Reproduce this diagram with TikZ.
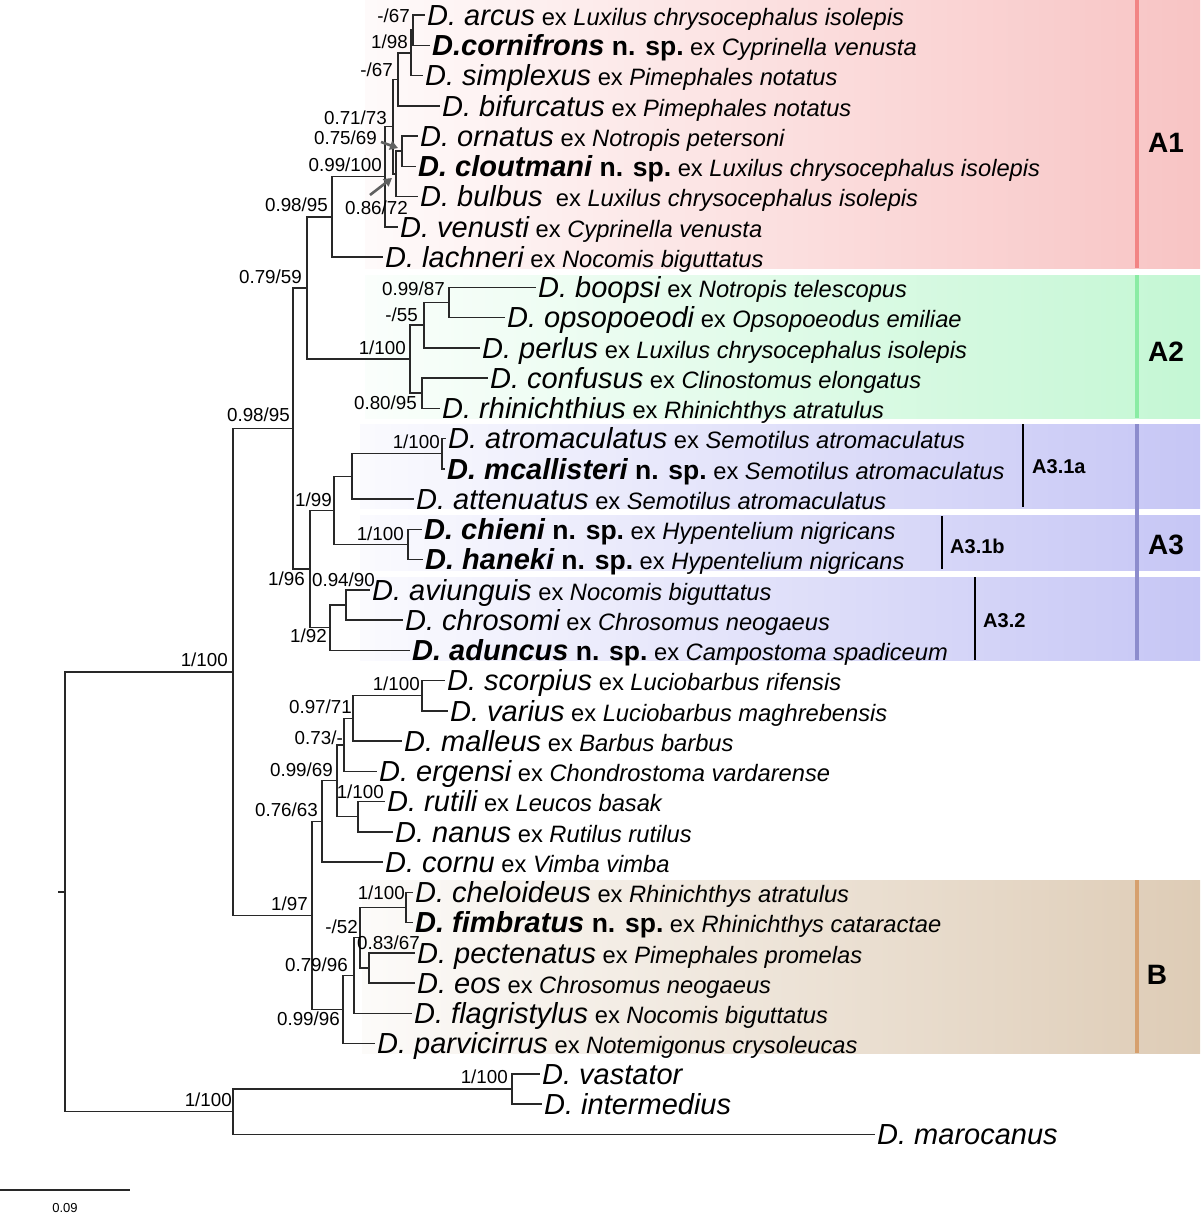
\documentclass[tikz,border=0pt]{standalone}
\usepackage{fontspec}
\setmainfont{Liberation Sans}
\usetikzlibrary{arrows.meta}

\definecolor{aone}{RGB}{248,196,196}
\definecolor{atwo}{RGB}{196,247,212}
\definecolor{athree}{RGB}{198,198,245}
\definecolor{bcol}{RGB}{222,204,182}
\definecolor{aoneline}{RGB}{242,132,132}
\definecolor{atwoline}{RGB}{138,236,164}
\definecolor{athreeline}{RGB}{140,140,205}
\definecolor{bline}{RGB}{214,160,110}
\definecolor{branch}{RGB}{40,40,40}

\newcommand\taxN[1]{{\fontsize{29}{30}\selectfont\itshape #1}}
\newcommand\taxB[1]{{\fontsize{29}{30}\selectfont\bfseries\itshape #1}}
\newcommand\newsp{{\fontsize{26.5}{30}\selectfont\bfseries\ n. sp.}}
\newcommand\exhost[1]{{\fontsize{23.7}{30}\selectfont\ ex \textit{#1}}}

\tikzset{
  br/.style={draw=branch, line width=1.5pt},
  suplab/.style={anchor=east, inner sep=0pt, font=\fontsize{18.8}{18.8}\selectfont},
  taxlab/.style={anchor=base west, inner sep=0pt, xshift=2pt, yshift=-10.4pt},
  cladelab/.style={inner sep=0pt, font=\fontsize{28}{28}\selectfont\bfseries},
  sublab/.style={anchor=west, inner sep=0pt, font=\fontsize{20}{20}\selectfont\bfseries},
  arr/.style={draw=gray!75!black, line width=2.6pt, -{Triangle[length=8pt,width=9pt]}},
  cladeline/.style={line width=3.5pt},
  subline/.style={draw=black, line width=2pt},
}

\begin{document}
\begin{tikzpicture}[x=1pt,y=-1pt]
\useasboundingbox (0,0) rectangle (1200,1213);

% ---------- background bands ----------
\shade[left color=aone!8, right color=aone] (365,0) rectangle (1200,268);
\shade[left color=atwo!8, right color=atwo] (365,275) rectangle (1200,418);
\shade[left color=athree!8, right color=athree] (360,424) rectangle (1200,508);
\shade[left color=athree!8, right color=athree] (360,515) rectangle (1200,570);
\shade[left color=athree!8, right color=athree] (360,577) rectangle (1200,660);
\shade[left color=bcol!8, right color=bcol] (362,880) rectangle (1200,1053);

\coordinate (cA1t) at (1137,0);   \coordinate (cA1b) at (1137,268);
\coordinate (cA2t) at (1137,275); \coordinate (cA2b) at (1137,418);
\coordinate (cA3t) at (1137,424); \coordinate (cA3b) at (1137,660);
\coordinate (cBt) at (1137,880);  \coordinate (cBb) at (1137,1053);
\draw[cladeline, draw=aoneline] (cA1t) -- (cA1b);
\draw[cladeline, draw=atwoline] (cA2t) -- (cA2b);
\draw[cladeline, draw=athreeline] (cA3t) -- (cA3b);
\draw[cladeline, draw=bline] (cBt) -- (cBb);

\node[cladelab] (labA1) at (1166,143) {A1};
\node[cladelab] (labA2) at (1166,352) {A2};
\node[cladelab] (labA3) at (1166,545) {A3};
\node[cladelab] (labB) at (1157,975) {B};

\coordinate (s1at) at (1023,424); \coordinate (s1ab) at (1023,507);
\coordinate (s1bt) at (942,516);  \coordinate (s1bb) at (942,569);
\coordinate (s2t) at (975,577);   \coordinate (s2b) at (975,660);
\draw[subline] (s1at) -- (s1ab);
\draw[subline] (s1bt) -- (s1bb);
\draw[subline] (s2t) -- (s2b);
\node[sublab] (labA31a) at (1032,467) {A3.1a};
\node[sublab] (labA31b) at (950,546) {A3.1b};
\node[sublab] (labA32) at (983,621) {A3.2};

% ---------- tips ----------
\coordinate (t1) at (425,15);
\coordinate (t2) at (430,45.25);
\coordinate (t3) at (423,75.5);
\coordinate (t4) at (440,105.75);
\coordinate (t5) at (418,136);
\coordinate (t6) at (416,166.25);
\coordinate (t7) at (418,196.5);
\coordinate (t8) at (398,226.75);
\coordinate (t9) at (383,257);
\coordinate (t10) at (536,287.25);
\coordinate (t11) at (505,317.5);
\coordinate (t12) at (480,347.75);
\coordinate (t13) at (488,378);
\coordinate (t14) at (440,408.25);
\coordinate (t15) at (446,438.5);
\coordinate (t16) at (445,468.75);
\coordinate (t17) at (414,499);
\coordinate (t18) at (422,529.25);
\coordinate (t19) at (423,559.5);
\coordinate (t20) at (370,589.75);
\coordinate (t21) at (403,620);
\coordinate (t22) at (410,650.25);
\coordinate (t23) at (445,680.5);
\coordinate (t24) at (448,710.75);
\coordinate (t25) at (402,741);
\coordinate (t26) at (377,771.25);
\coordinate (t27) at (385,801.5);
\coordinate (t28) at (393,831.75);
\coordinate (t29) at (383,862);
\coordinate (t30) at (413,892.25);
\coordinate (t31) at (413,922.5);
\coordinate (t32) at (415,952.75);
\coordinate (t33) at (415,983);
\coordinate (t34) at (412,1013.25);
\coordinate (t35) at (375,1043.5);
\coordinate (t36) at (540,1073.75);
\coordinate (t37) at (542,1104);
\coordinate (t38) at (875,1134.25);

% ---------- internal nodes ----------
\coordinate (nac) at (413,30.1);
\coordinate (nacs) at (411,52.8);
\coordinate (nacsb) at (398,79.3);
\coordinate (noc) at (402,151.1);
\coordinate (nocb) at (396,173.8);
\coordinate (nsev) at (393,126.5);
\coordinate (nnine) at (385,176.6);
\coordinate (nAone) at (332,216.8);
\coordinate (nbo) at (449,302.4);
\coordinate (nbop) at (424,325.1);
\coordinate (ncr) at (422,393.1);
\coordinate (nAtwo) at (410,359.1);
\coordinate (nAonetwo) at (307,288);
\coordinate (nam) at (442,453.6);
\coordinate (nama) at (352,476.3);
\coordinate (nch) at (408,544.4);
\coordinate (nAthreeone) at (334,510.3);
\coordinate (navc) at (346,604.9);
\coordinate (nAthreetwo) at (330,627.6);
\coordinate (nAthree) at (310,569);
\coordinate (nA) at (293,428.5);
\coordinate (nsv) at (422,695.6);
\coordinate (nsvm) at (353,718.3);
\coordinate (nsvme) at (344,744.8);
\coordinate (nrn) at (358,816.6);
\coordinate (neur) at (337,780.7);
\coordinate (neurc) at (322,821.4);
\coordinate (ncf) at (406,907.4);
\coordinate (npe) at (369,967.9);
\coordinate (nbf) at (360,937.6);
\coordinate (nbfl) at (354,975.4);
\coordinate (nB) at (343,1009.5);
\coordinate (nEB) at (312,915.4);
\coordinate (nin) at (233,672);
\coordinate (nvi) at (512,1088.9);
\coordinate (nout) at (233,1111.6);
\coordinate (root) at (65,891.8);
\coordinate (rtick) at (58,891.8);

% ---------- branches ----------
\draw[br] (nac) |- (t1); \draw[br] (nac) |- (t2);
\draw[br] (nacs) |- (nac); \draw[br] (nacs) |- (t3);
\draw[br] (nacsb) |- (nacs); \draw[br] (nacsb) |- (t4);
\draw[br] (noc) |- (t5); \draw[br] (noc) |- (t6);
\draw[br] (nocb) |- (noc); \draw[br] (nocb) |- (t7);
\draw[br] (nsev) |- (nacsb); \draw[br] (nsev) |- (nocb);
\draw[br] (nnine) |- (nsev); \draw[br] (nnine) |- (t8);
\draw[br] (nAone) |- (nnine); \draw[br] (nAone) |- (t9);
\draw[br] (nbo) |- (t10); \draw[br] (nbo) |- (t11);
\draw[br] (nbop) |- (nbo); \draw[br] (nbop) |- (t12);
\draw[br] (ncr) |- (t13); \draw[br] (ncr) |- (t14);
\draw[br] (nAtwo) |- (nbop); \draw[br] (nAtwo) |- (ncr);
\draw[br] (nAonetwo) |- (nAone); \draw[br] (nAonetwo) |- (nAtwo);
\draw[br] (nam) |- (t15); \draw[br] (nam) |- (t16);
\draw[br] (nama) |- (nam); \draw[br] (nama) |- (t17);
\draw[br] (nch) |- (t18); \draw[br] (nch) |- (t19);
\draw[br] (nAthreeone) |- (nama); \draw[br] (nAthreeone) |- (nch);
\draw[br] (navc) |- (t20); \draw[br] (navc) |- (t21);
\draw[br] (nAthreetwo) |- (navc); \draw[br] (nAthreetwo) |- (t22);
\draw[br] (nAthree) |- (nAthreeone); \draw[br] (nAthree) |- (nAthreetwo);
\draw[br] (nA) |- (nAonetwo); \draw[br] (nA) |- (nAthree);
\draw[br] (nsv) |- (t23); \draw[br] (nsv) |- (t24);
\draw[br] (nsvm) |- (nsv); \draw[br] (nsvm) |- (t25);
\draw[br] (nsvme) |- (nsvm); \draw[br] (nsvme) |- (t26);
\draw[br] (nrn) |- (t27); \draw[br] (nrn) |- (t28);
\draw[br] (neur) |- (nsvme); \draw[br] (neur) |- (nrn);
\draw[br] (neurc) |- (neur); \draw[br] (neurc) |- (t29);
\draw[br] (ncf) |- (t30); \draw[br] (ncf) |- (t31);
\draw[br] (npe) |- (t32); \draw[br] (npe) |- (t33);
\draw[br] (nbf) |- (ncf); \draw[br] (nbf) |- (npe);
\draw[br] (nbfl) |- (nbf); \draw[br] (nbfl) |- (t34);
\draw[br] (nB) |- (nbfl); \draw[br] (nB) |- (t35);
\draw[br] (nEB) |- (neurc); \draw[br] (nEB) |- (nB);
\draw[br] (nin) |- (nA); \draw[br] (nin) |- (nEB);
\draw[br] (nvi) |- (t36); \draw[br] (nvi) |- (t37);
\draw[br] (nout) |- (nvi); \draw[br] (nout) |- (t38);
\draw[br] (root) |- (nin); \draw[br] (root) |- (nout);
\draw[br] (rtick) -- (root);

% ---------- support values ----------
\node[suplab] (s1) at (228,660) {1/100};
\node[suplab] (s2) at (232,1100) {1/100};
\node[suplab] (s3) at (290,415) {0.98/95};
\node[suplab] (s4) at (302,277) {0.79/59};
\node[suplab] (s5) at (328,205) {0.98/95};
\node[suplab] (s6) at (382,165) {0.99/100};
\node[suplab] (s7) at (387,118) {0.71/73};
\node[suplab] (s8) at (377,138) {0.75/69};
\node[suplab] (s9) at (408,208) {0.86/72};
\node[suplab] (s10) at (410,16) {-/67};
\node[suplab] (s11) at (408,42) {1/98};
\node[suplab] (s12) at (393,70) {-/67};
\node[suplab] (s13) at (445,289) {0.99/87};
\node[suplab] (s14) at (418,315) {-/55};
\node[suplab] (s15) at (406,348) {1/100};
\node[suplab] (s16) at (417,403) {0.80/95};
\node[suplab] (s17) at (440,442) {1/100};
\node[suplab] (s18) at (332,500) {1/99};
\node[suplab] (s19) at (404,534) {1/100};
\node[suplab] (s20) at (305,579) {1/96};
\node[suplab] (s21) at (375,580) {0.94/90};
\node[suplab] (s22) at (327,636) {1/92};
\node[suplab] (s23) at (420,684) {1/100};
\node[suplab] (s24) at (352,707) {0.97/71};
\node[suplab] (s25) at (343,738) {0.73/-};
\node[suplab] (s26) at (333,770) {0.99/69};
\node[suplab] (s27) at (384,792) {1/100};
\node[suplab] (s28) at (318,810) {0.76/63};
\node[suplab] (s29) at (308,904) {1/97};
\node[suplab] (s30) at (405,893) {1/100};
\node[suplab] (s31) at (358,927) {-/52};
\node[suplab] (s32) at (420,943) {0.83/67};
\node[suplab] (s33) at (348,965) {0.79/96};
\node[suplab] (s34) at (340,1019) {0.99/96};
\node[suplab] (s35) at (508,1077) {1/100};

\coordinate (arrAs) at (381,142);
\coordinate (arrAe) at (398,148);
\coordinate (arrBs) at (370,195);
\coordinate (arrBe) at (392,178);
\draw[arr] (arrAs) -- (arrAe);
\draw[arr] (arrBs) -- (arrBe);

% ---------- taxon labels ----------
\node[taxlab] (l1) at (t1) {\taxN{D. arcus}\exhost{Luxilus chrysocephalus isolepis}};
\node[taxlab] (l2) at (t2) {\taxB{D.cornifrons}\newsp\exhost{Cyprinella venusta}};
\node[taxlab] (l3) at (t3) {\taxN{D. simplexus}\exhost{Pimephales notatus}};
\node[taxlab] (l4) at (t4) {\taxN{D. bifurcatus}\exhost{Pimephales notatus}};
\node[taxlab] (l5) at (t5) {\taxN{D. ornatus}\exhost{Notropis petersoni}};
\node[taxlab] (l6) at (t6) {\taxB{D. cloutmani}\newsp\exhost{Luxilus chrysocephalus isolepis}};
\node[taxlab] (l7) at (t7) {\taxN{D. bulbus}{\fontsize{23.7}{30}\selectfont\ }\exhost{Luxilus chrysocephalus isolepis}};
\node[taxlab] (l8) at (t8) {\taxN{D. venusti}\exhost{Cyprinella venusta}};
\node[taxlab] (l9) at (t9) {\taxN{D. lachneri}\exhost{Nocomis biguttatus}};
\node[taxlab] (l10) at (t10) {\taxN{D. boopsi}\exhost{Notropis telescopus}};
\node[taxlab] (l11) at (t11) {\taxN{D. opsopoeodi}\exhost{Opsopoeodus emiliae}};
\node[taxlab] (l12) at (t12) {\taxN{D. perlus}\exhost{Luxilus chrysocephalus isolepis}};
\node[taxlab] (l13) at (t13) {\taxN{D. confusus}\exhost{Clinostomus elongatus}};
\node[taxlab] (l14) at (t14) {\taxN{D. rhinichthius}\exhost{Rhinichthys atratulus}};
\node[taxlab] (l15) at (t15) {\taxN{D. atromaculatus}\exhost{Semotilus atromaculatus}};
\node[taxlab] (l16) at (t16) {\taxB{D. mcallisteri}\newsp\exhost{Semotilus atromaculatus}};
\node[taxlab] (l17) at (t17) {\taxN{D. attenuatus}\exhost{Semotilus atromaculatus}};
\node[taxlab] (l18) at (t18) {\taxB{D. chieni}\newsp\exhost{Hypentelium nigricans}};
\node[taxlab] (l19) at (t19) {\taxB{D. haneki}\newsp\exhost{Hypentelium nigricans}};
\node[taxlab] (l20) at (t20) {\taxN{D. aviunguis}\exhost{Nocomis biguttatus}};
\node[taxlab] (l21) at (t21) {\taxN{D. chrosomi}\exhost{Chrosomus neogaeus}};
\node[taxlab] (l22) at (t22) {\taxB{D. aduncus}\newsp\exhost{Campostoma spadiceum}};
\node[taxlab] (l23) at (t23) {\taxN{D. scorpius}\exhost{Luciobarbus rifensis}};
\node[taxlab] (l24) at (t24) {\taxN{D. varius}\exhost{Luciobarbus maghrebensis}};
\node[taxlab] (l25) at (t25) {\taxN{D. malleus}\exhost{Barbus barbus}};
\node[taxlab] (l26) at (t26) {\taxN{D. ergensi}\exhost{Chondrostoma vardarense}};
\node[taxlab] (l27) at (t27) {\taxN{D. rutili}\exhost{Leucos basak}};
\node[taxlab] (l28) at (t28) {\taxN{D. nanus}\exhost{Rutilus rutilus}};
\node[taxlab] (l29) at (t29) {\taxN{D. cornu}\exhost{Vimba vimba}};
\node[taxlab] (l30) at (t30) {\taxN{D. cheloideus}\exhost{Rhinichthys atratulus}};
\node[taxlab] (l31) at (t31) {\taxB{D. fimbratus}\newsp\exhost{Rhinichthys cataractae}};
\node[taxlab] (l32) at (t32) {\taxN{D. pectenatus}\exhost{Pimephales promelas}};
\node[taxlab] (l33) at (t33) {\taxN{D. eos}\exhost{Chrosomus neogaeus}};
\node[taxlab] (l34) at (t34) {\taxN{D. flagristylus}\exhost{Nocomis biguttatus}};
\node[taxlab] (l35) at (t35) {\taxN{D. parvicirrus}\exhost{Notemigonus crysoleucas}};
\node[taxlab] (l36) at (t36) {\taxN{D. vastator}};
\node[taxlab] (l37) at (t37) {\taxN{D. intermedius}};
\node[taxlab] (l38) at (t38) {\taxN{D. marocanus}};

% ---------- scale bar ----------
\coordinate (sba) at (0,1190);
\coordinate (sbb) at (130,1190);
\draw[br] (sba) -- (sbb);
\node[inner sep=0pt, font=\fontsize{13}{13}\selectfont] (sbl) at (65,1208) {0.09};
\end{tikzpicture}
\end{document}
